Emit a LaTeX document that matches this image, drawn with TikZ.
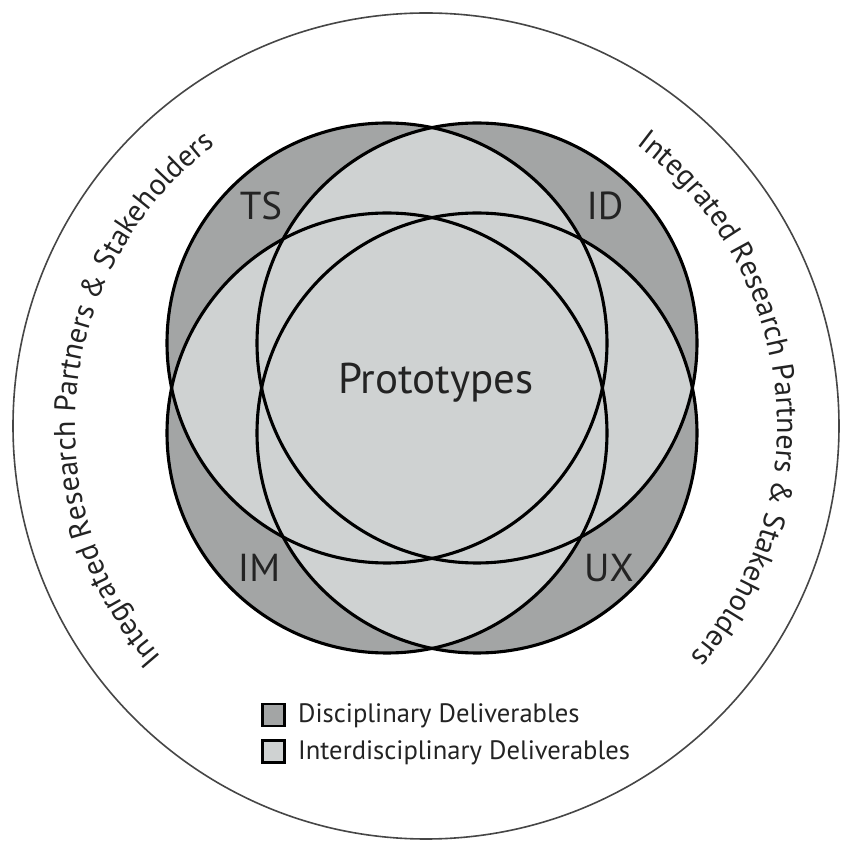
\documentclass[tikz,border=0pt]{standalone}
\usepackage{fontspec}
\setmainfont{PT Sans}
\usetikzlibrary{decorations.text}
\definecolor{darkfill}{RGB}{163,165,165}
\definecolor{lightfill}{RGB}{207,210,210}
\definecolor{ringcol}{RGB}{70,70,70}
\definecolor{inkcol}{RGB}{35,35,35}
\newcommand{\arcfont}{\fontsize{30pt}{36pt}\selectfont}
\begin{document}
\begin{tikzpicture}[x=1pt,y=1pt,
  ring/.style={draw=black,line width=3.1pt},
  lbl/.style={font=\fontsize{39pt}{44pt}\selectfont,text=inkcol,anchor=base,inner sep=0pt},
  legendbox/.style={draw=black,line width=2.2pt,minimum width=22pt,minimum height=22pt,inner sep=0pt},
  legendtext/.style={font=\fontsize{26.6pt}{30pt}\selectfont,text=inkcol,anchor=base west,inner sep=0pt}]
\useasboundingbox (0,0) rectangle (841,844);
\fill[white] (0,0) rectangle (841,844);
% outer ring
\coordinate (oc) at (426,418);
\draw[ringcol,line width=1.6pt] (oc) circle (413pt);
% four circles
\def\R{220pt}
\coordinate (cTS) at (387,501);
\coordinate (cID) at (477,501);
\coordinate (cIM) at (387,411);
\coordinate (cUX) at (477,411);
\fill[darkfill] (cTS) circle (\R) (cID) circle (\R) (cIM) circle (\R) (cUX) circle (\R);
\foreach \a/\b in {TS/ID,TS/IM,TS/UX,ID/IM,ID/UX,IM/UX}{
  \begin{scope}
    \clip (c\a) circle (\R);
    \fill[lightfill] (c\b) circle (\R);
  \end{scope}
}
\foreach \c in {TS,ID,IM,UX} \draw[ring] (c\c) circle (\R);
% labels
\node[lbl] (ts) at (261,624) {TS};
\node[lbl] (id) at (605,624) {ID};
\node[lbl] (im) at (259,262) {IM};
\node[lbl] (ux) at (609,262) {UX};
\node[font=\fontsize{43pt}{48pt}\selectfont,text=inkcol,anchor=base,inner sep=0pt] (proto) at (436,450) {Prototypes};
% arc texts
\path[decorate,decoration={text along path,text align=center,
  text={|\arcfont\color{inkcol}|Integrated Research Partners {\&} Stakeholders}}]
  ([shift={(234:351pt)}]oc) arc[start angle=234,end angle=114,radius=351pt];
\path[decorate,decoration={text along path,text align=center,
  text={|\arcfont\color{inkcol}|Integrated Research Partners {\&} Stakeholders}}]
  ([shift={(66:351pt)}]oc) arc[start angle=66,end angle=-54,radius=351pt];
% legend
\node[legendbox,fill=darkfill] (lb1) at (273.5,129) {};
\node[legendbox,fill=lightfill] (lb2) at (273.5,92.5) {};
\node[legendtext] (lt1) at (298,121) {Disciplinary Deliverables};
\node[legendtext] (lt2) at (298,84) {Interdisciplinary Deliverables};
\end{tikzpicture}
\end{document}
